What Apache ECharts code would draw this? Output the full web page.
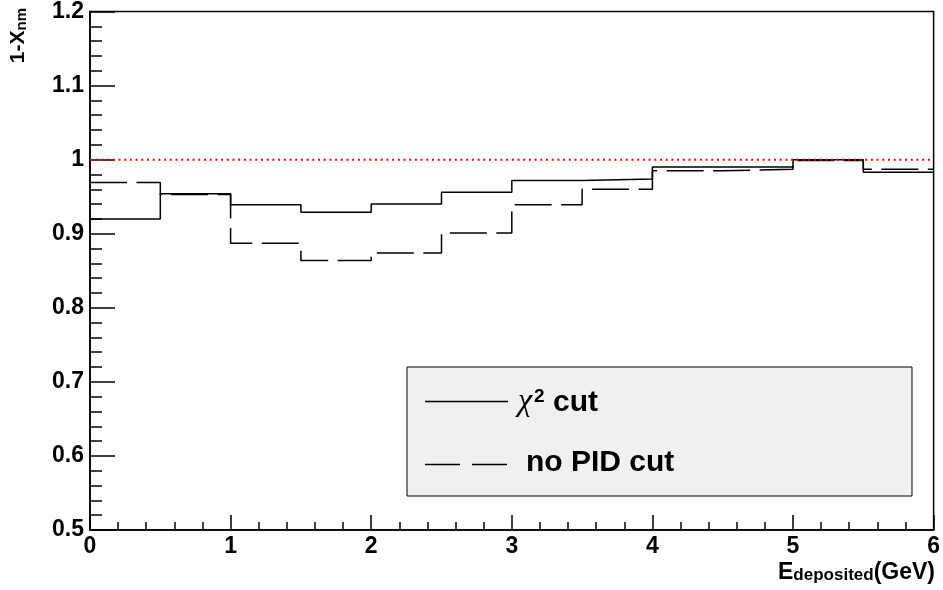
<!DOCTYPE html>
<html>
<head>
<meta charset="utf-8">
<script src="https://cdn.jsdelivr.net/npm/echarts@6/dist/echarts.min.js"></script>
<style>html,body{margin:0;padding:0;background:#fff}#c{width:943px;height:590px}</style>
</head>
<body>
<div id="c"></div>
<script>
// Bin left edges (GeV), last upper edge
var binEdges = [0, 0.5, 1, 1.5, 2, 2.5, 3, 3.5, 4, 4.5, 5, 5.5];
var lastEdge = 6;
// 1 - X_nm per bin
var chi2Cut = [0.920, 0.954, 0.939, 0.929, 0.940, 0.956, 0.972, 0.974, 0.990, 0.990, 1.000, 0.983];
var noPidCut = [0.969, 0.953, 0.887, 0.864, 0.874, 0.901, 0.939, 0.960, 0.985, 0.987, 0.999, 0.987];
var refLineX = [0, 6];
var refLineY = 1.0;
var xTicks = [0, 1, 2, 3, 4, 5, 6];
var yTicks = [0.5, 0.6, 0.7, 0.8, 0.9, 1.0, 1.1, 1.2];
var seriesNames = ['χ² cut', 'no PID cut'];

function histData(vals) {
  var d = binEdges.map(function (x, i) { return [x, vals[i]]; });
  d.push([lastEdge, vals[vals.length - 1]]);
  return d;
}

var FONT = 'Liberation Sans, Arial, Helvetica, sans-serif';
var chart = echarts.init(document.getElementById('c'));
var axisCommon = function (majorLen, minorLen) {
  return {
    axisLine: { show: true, onZero: false, lineStyle: { color: '#000', width: 1.5 } },
    axisTick: { show: true, inside: true, length: majorLen, lineStyle: { color: '#000', width: 1.5 } },
    minorTick: { show: true, splitNumber: 5, length: minorLen, lineStyle: { color: '#000', width: 1.5 } },
    splitLine: { show: false },
    minorSplitLine: { show: false }
  };
};
var xAx = Object.assign({
  type: 'value', min: xTicks[0], max: xTicks[xTicks.length - 1], interval: 1,
  axisLabel: { color: '#000', fontSize: 23, fontWeight: 'bold', fontFamily: FONT, margin: 5, showMinLabel: true, showMaxLabel: true }
}, axisCommon(15, 8));
var yAx = Object.assign({
  type: 'value', min: yTicks[0], max: yTicks[yTicks.length - 1], interval: 0.1,
  axisLabel: { color: '#000', fontSize: 23, fontWeight: 'bold', fontFamily: FONT, margin: 6, showMinLabel: true, showMaxLabel: true }
}, axisCommon(25, 12));

chart.setOption({
  animation: false,
  backgroundColor: '#fff',
  grid: { left: 90, right: 8, top: 8, bottom: 60, show: true, borderColor: '#000', borderWidth: 1.5, backgroundColor: 'transparent' },
  xAxis: xAx,
  yAxis: yAx,
  series: [
    {
      name: seriesNames[0], type: 'line', step: 'end', symbol: 'none',
      data: histData(chi2Cut),
      lineStyle: { color: '#000', width: 1.5 }
    },
    {
      name: seriesNames[1], type: 'line', step: 'end', symbol: 'none',
      data: histData(noPidCut),
      lineStyle: { color: '#000', width: 1.5, type: [37, 9.5], dashOffset: 0 }
    },
    {
      name: 'ref', type: 'line', symbol: 'none',
      data: refLineX.map(function (x) { return [x, refLineY]; }),
      lineStyle: { color: '#ff0000', width: 2, type: [2, 3.7], cap: 'butt' }
    }
  ],
  graphic: [
    {
      type: 'text', right: 8, top: 555,
      style: {
        text: '{a|E}{b|deposited}{a|(GeV)}',
        fill: '#000',
        rich: {
          a: { fontSize: 23, fontWeight: 'bold', fontFamily: FONT, verticalAlign: 'top', lineHeight: 23 },
          b: { fontSize: 17, fontWeight: 'bold', fontFamily: FONT, verticalAlign: 'bottom', lineHeight: 17, padding: [12, 0, 0, 0] }
        }
      }
    },
    {
      type: 'text', x: 8, y: 8, rotation: Math.PI / 2,
      style: {
        text: '{a|1-X}{b|nm}',
        fill: '#000', align: 'right', verticalAlign: 'top',
        rich: {
          a: { fontSize: 21, fontWeight: 'bold', fontFamily: FONT, verticalAlign: 'top', lineHeight: 21 },
          b: { fontSize: 15, fontWeight: 'bold', fontFamily: FONT, verticalAlign: 'bottom', lineHeight: 15, padding: [11, 0, 0, 0] }
        }
      }
    },
    {
      type: 'rect', shape: { x: 407, y: 367, width: 505, height: 129 },
      style: { fill: '#f0f0f0', stroke: '#000', lineWidth: 1 }, z: 10
    },
    {
      type: 'line', shape: { x1: 425, y1: 401.5, x2: 508, y2: 401.5 },
      style: { stroke: '#000', lineWidth: 1.5 }, z: 11
    },
    {
      type: 'line', shape: { x1: 425, y1: 464.5, x2: 508, y2: 464.5 },
      style: { stroke: '#000', lineWidth: 1.5, lineDash: [35, 12] }, z: 11
    },
    {
      type: 'text', x: 518, y: 402, z: 11,
      style: {
        text: '{c|χ}{s|2}{t| cut}',
        fill: '#000', verticalAlign: 'middle',
        rich: {
          c: { fontSize: 32, fontStyle: 'italic', fontFamily: 'Liberation Serif, serif', verticalAlign: 'bottom', lineHeight: 32 },
          s: { fontSize: 19, fontWeight: 'bold', fontFamily: FONT, verticalAlign: 'bottom', lineHeight: 19, padding: [0, 0, 12, 2] },
          t: { fontSize: 30, fontWeight: 'bold', fontFamily: FONT, verticalAlign: 'bottom', lineHeight: 32 }
        }
      }
    },
    {
      type: 'text', x: 526, y: 463, z: 11,
      style: { text: seriesNames[1], fill: '#000', fontSize: 30, fontWeight: 'bold', fontFamily: FONT, verticalAlign: 'middle' }
    }
  ]
});
</script>
</body>
</html>
